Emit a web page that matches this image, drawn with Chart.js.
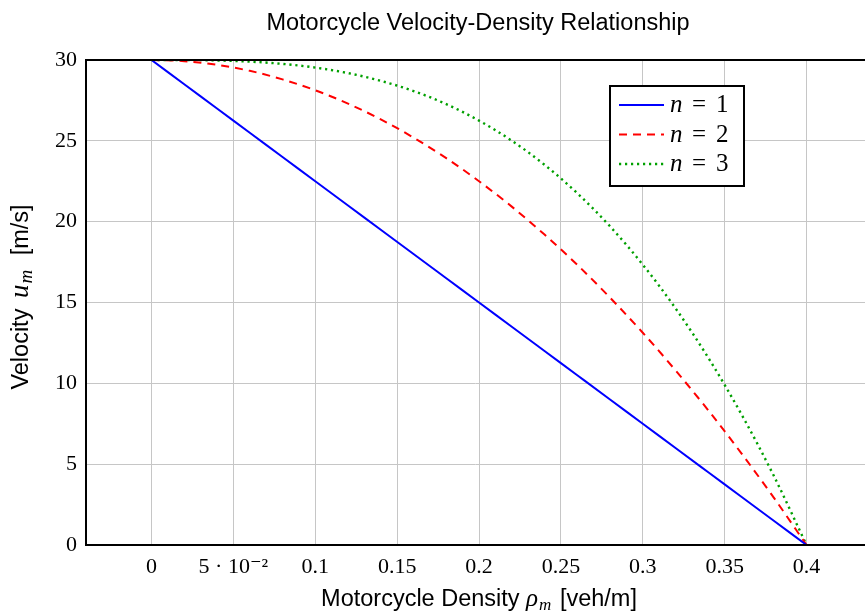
<!DOCTYPE html>
<html lang="en">
<head>
    <meta charset="UTF-8">
    <title>Motorcycle Velocity-Density Relationship</title>
    <script src="https://cdn.jsdelivr.net/npm/chart.js"></script>
    <style>
        body {
            margin: 0;
            background: #ffffff;
            overflow: hidden;
        }
        canvas {
            display: block;
        }
    </style>
</head>
<body>
    <canvas id="velocityChart" width="865" height="616"></canvas>

    <script>
        // density samples (veh/m) and velocities (m/s)
        const density = [0, 0.02, 0.04, 0.06, 0.08, 0.10, 0.12, 0.14, 0.16, 0.18, 0.20,
                         0.22, 0.24, 0.26, 0.28, 0.30, 0.32, 0.34, 0.36, 0.38, 0.40];
        const velN1 = [30, 28.5, 27, 25.5, 24, 22.5, 21, 19.5, 18, 16.5, 15,
                       13.5, 12, 10.5, 9, 7.5, 6, 4.5, 3, 1.5, 0];
        const velN2 = [30, 29.93, 29.7, 29.33, 28.8, 28.13, 27.3, 26.33, 25.2, 23.93, 22.5,
                       20.93, 19.2, 17.33, 15.3, 13.13, 10.8, 8.33, 5.7, 2.93, 0];
        const velN3 = [30, 30, 29.97, 29.9, 29.76, 29.53, 29.19, 28.71, 28.08, 27.27, 26.25,
                       25.01, 23.52, 21.76, 19.71, 17.34, 14.64, 11.58, 8.13, 4.28, 0];

        const xTicks = [0, 0.05, 0.1, 0.15, 0.2, 0.25, 0.3, 0.35, 0.4];
        const xTickLabels = ['0', '5 · 10⁻²', '0.1', '0.15', '0.2', '0.25', '0.3', '0.35', '0.4'];
        const yTicks = [0, 5, 10, 15, 20, 25, 30];
        const seriesLabels = ['1', '2', '3'];

        const SANS = '"Liberation Sans", Arial, sans-serif';
        const SERIF = '"Liberation Serif", "DejaVu Serif", serif';

        function toPoints(ys) {
            return ys.map((y, i) => ({ x: density[i], y: y }));
        }

        // draw a row of text pieces with mixed fonts, centred on cx
        function drawPieces(ctx, pieces, cx, baseline) {
            let total = 0;
            pieces.forEach(p => {
                ctx.font = p.font;
                p.w = ctx.measureText(p.text).width + (p.gap || 0);
                total += p.w;
            });
            let x = cx - total / 2;
            ctx.textAlign = 'left';
            ctx.textBaseline = 'alphabetic';
            pieces.forEach(p => {
                ctx.font = p.font;
                ctx.fillText(p.text, x, baseline + (p.dy || 0));
                x += p.w;
            });
        }

        const decorPlugin = {
            id: 'decor',
            afterDraw(chart) {
                const ctx = chart.ctx;
                const area = chart.chartArea;
                ctx.save();
                ctx.fillStyle = '#000';

                // title
                ctx.font = '23.5px ' + SANS;
                ctx.textAlign = 'center';
                ctx.textBaseline = 'alphabetic';
                ctx.fillText('Motorcycle Velocity-Density Relationship', 478, 30);

                // x axis title
                drawPieces(ctx, [
                    { text: 'Motorcycle Density ', font: '23.5px ' + SANS },
                    { text: 'ρ', font: 'italic 25px ' + SERIF, gap: 1 },
                    { text: 'm', font: 'italic 17px ' + SERIF, dy: 4, gap: 2 },
                    { text: ' [veh/m]', font: '23.5px ' + SANS }
                ], 479, 606);

                // y axis title
                ctx.save();
                ctx.translate(28, 297);
                ctx.rotate(-Math.PI / 2);
                drawPieces(ctx, [
                    { text: 'Velocity ', font: '23.5px ' + SANS, gap: 4 },
                    { text: 'u', font: 'italic 27px ' + SERIF, gap: 1 },
                    { text: 'm', font: 'italic 19px ' + SERIF, dy: 4, gap: 8 },
                    { text: ' [m/s]', font: '23.5px ' + SANS }
                ], 0, 0);
                ctx.restore();

                // axis frame: left, top, bottom
                ctx.strokeStyle = '#000';
                ctx.lineWidth = 2;
                ctx.beginPath();
                ctx.moveTo(area.right + 2, area.top);
                ctx.lineTo(area.left, area.top);
                ctx.lineTo(area.left, area.bottom);
                ctx.lineTo(area.right + 2, area.bottom);
                ctx.stroke();

                // legend box
                const bx = 610, by = 86, bw = 134, bh = 100;
                ctx.fillStyle = '#fff';
                ctx.fillRect(bx, by, bw, bh);
                ctx.strokeRect(bx, by, bw, bh);
                chart.data.datasets.forEach((ds, i) => {
                    const ly = 105 + i * 29.5;
                    ctx.save();
                    ctx.strokeStyle = ds.borderColor;
                    ctx.lineWidth = ds.borderWidth;
                    ctx.setLineDash(ds.borderDash || []);
                    ctx.beginPath();
                    ctx.moveTo(619, ly);
                    ctx.lineTo(664, ly);
                    ctx.stroke();
                    ctx.restore();
                    ctx.fillStyle = '#000';
                    ctx.textAlign = 'left';
                    ctx.textBaseline = 'alphabetic';
                    ctx.font = 'italic 25px ' + SERIF;
                    ctx.fillText('n', 670, ly + 7);
                    ctx.font = '25px ' + SERIF;
                    ctx.fillText('=', 692, ly + 7);
                    ctx.fillText(seriesLabels[i], 716, ly + 7);
                });
                ctx.restore();
            }
        };

        new Chart(document.getElementById('velocityChart').getContext('2d'), {
            type: 'line',
            data: {
                datasets: [{
                    label: 'n = 1',
                    data: toPoints(velN1),
                    borderColor: '#0000ff',
                    borderWidth: 2,
                    borderDash: []
                }, {
                    label: 'n = 2',
                    data: toPoints(velN2),
                    borderColor: '#ff0000',
                    borderWidth: 2,
                    borderDash: [8, 6]
                }, {
                    label: 'n = 3',
                    data: toPoints(velN3),
                    borderColor: '#00a000',
                    borderWidth: 2.4,
                    borderDash: [2.2, 3.8]
                }]
            },
            options: {
                responsive: false,
                animation: false,
                layout: { padding: { top: 60, right: 0, left: 0, bottom: 0 } },
                elements: {
                    point: { radius: 0 },
                    line: { fill: false, cubicInterpolationMode: 'monotone' }
                },
                plugins: {
                    legend: { display: false },
                    tooltip: { enabled: false }
                },
                scales: {
                    x: {
                        type: 'linear',
                        min: -0.04,
                        max: 0.4357,
                        afterBuildTicks(scale) {
                            scale.ticks = xTicks.map(v => ({ value: v }));
                        },
                        afterFit(scale) {
                            scale.height = 71;
                        },
                        grid: { color: '#c6c6c6', lineWidth: 1, drawTicks: false },
                        border: { display: false },
                        ticks: {
                            padding: 9,
                            color: '#000',
                            maxRotation: 0,
                            autoSkip: false,
                            font: { family: SERIF, size: 22 },
                            callback: (value) => {
                                const i = xTicks.findIndex(t => Math.abs(t - value) < 1e-9);
                                return i >= 0 ? xTickLabels[i] : '';
                            }
                        }
                    },
                    y: {
                        min: 0,
                        max: 30,
                        afterBuildTicks(scale) {
                            scale.ticks = yTicks.map(v => ({ value: v }));
                        },
                        afterFit(scale) {
                            scale.width = 86;
                        },
                        grid: { color: '#c6c6c6', lineWidth: 1, drawTicks: false },
                        border: { display: false },
                        ticks: {
                            padding: 9,
                            color: '#000',
                            font: { family: SERIF, size: 22 }
                        }
                    }
                }
            },
            plugins: [decorPlugin]
        });
    </script>
</body>
</html>
